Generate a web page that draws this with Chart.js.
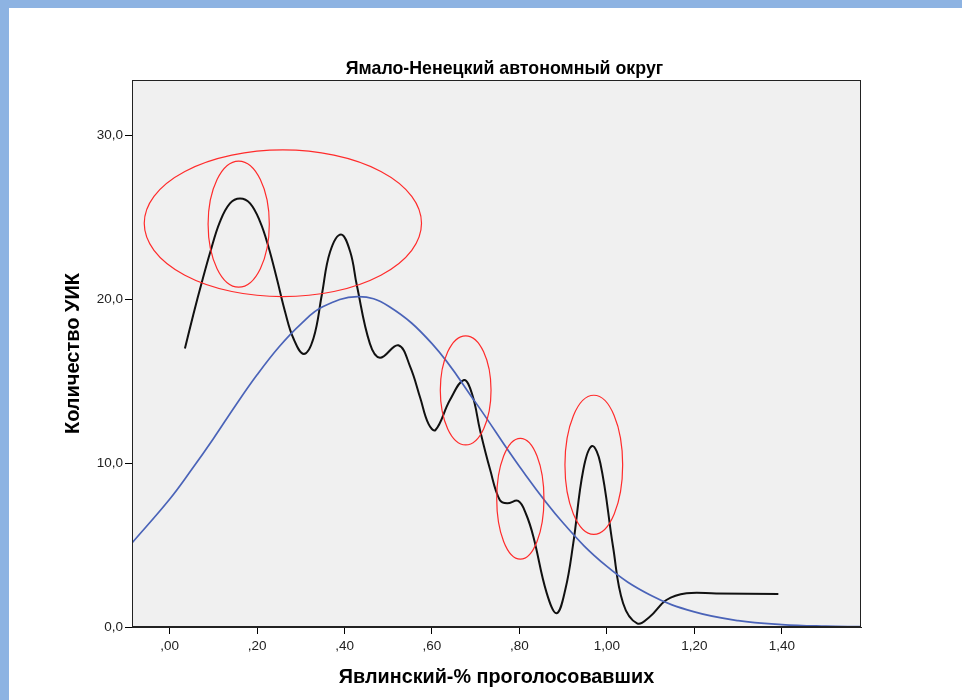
<!DOCTYPE html>
<html>
<head>
<meta charset="utf-8">
<script src="https://cdn.jsdelivr.net/npm/chart.js@4.4.1/dist/chart.umd.min.js"></script>
<style>
  body { margin: 0; background: #fff; }
  #wrap { position: relative; width: 962px; height: 700px; overflow: hidden; }
  #topbar { position: absolute; left: 0; top: 0; width: 962px; height: 8px; background: #8db3e2; }
  #leftbar { position: absolute; left: 0; top: 0; width: 9px; height: 700px; background: #8db3e2; }
  canvas { position: absolute; left: 0; top: 0; }
</style>
</head>
<body>
<div id="wrap">
  <canvas id="myChart" width="962" height="700"></canvas>
  <div id="topbar"></div>
  <div id="leftbar"></div>
</div>
<script>
// black smoothed curve
var blackX = [0.035, 0.054, 0.074, 0.093, 0.115, 0.138, 0.161, 0.184, 0.207, 0.226, 0.245, 0.264, 0.283, 0.307, 0.329, 0.348, 0.367, 0.392, 0.413, 0.428, 0.458, 0.481, 0.523, 0.550, 0.573, 0.592, 0.608, 0.641, 0.673, 0.692, 0.710, 0.733, 0.755, 0.772, 0.797, 0.815, 0.832, 0.862, 0.885, 0.905, 0.923, 0.946, 0.966, 0.985, 1.014, 1.037, 1.069, 1.098, 1.136, 1.182, 1.250, 1.392];
var blackY = [17.0, 19.05, 21.08, 22.9, 24.74, 25.87, 26.17, 25.87, 24.74, 23.22, 21.29, 19.25, 17.63, 16.67, 17.63, 20.27, 22.91, 23.97, 22.91, 20.88, 17.3, 16.44, 17.2, 15.9, 14.0, 12.4, 12.03, 13.86, 15.08, 14.2, 12.0, 9.6, 7.75, 7.55, 7.7, 6.9, 5.5, 2.1, 0.84, 2.3, 5.1, 9.6, 11.05, 10.0, 4.9, 1.45, 0.22, 0.63, 1.65, 2.06, 2.05, 2.01];

// blue normal curve
var blueX = [-0.086, 0.0, 0.05, 0.1, 0.15, 0.2, 0.25, 0.3, 0.35, 0.43, 0.5, 0.6, 0.7, 0.8, 0.9, 1.0, 1.1, 1.2, 1.3, 1.4, 1.5, 1.581];
var blueY = [5.13, 7.8, 9.6, 11.5, 13.5, 15.4, 17.1, 18.5, 19.55, 20.17, 19.6, 17.3, 13.7, 9.8, 6.35, 3.7, 1.94, 0.92, 0.39, 0.15, 0.05, 0.02];

// red ellipses: centre and half-sizes in data units
var ellCx = [0.259, 0.158, 0.677, 0.802, 0.970];
var ellCy = [24.65, 24.6, 14.45, 7.83, 9.9];
var ellRx = [0.317, 0.070, 0.058, 0.054, 0.066];
var ellRy = [4.48, 3.85, 3.33, 3.69, 4.25];

var xTickValues = [0, 0.2, 0.4, 0.6, 0.8, 1.0, 1.2, 1.4];
var xTickLabels = [',00', ',20', ',40', ',60', ',80', '1,00', '1,20', '1,40'];
var yTickValues = [0, 10, 20, 30];
var yTickLabels = ['0,0', '10,0', '20,0', '30,0'];

var titleText = 'Ямало-Ненецкий автономный округ';
var xTitle = 'Явлинский-% проголосовавших';
var yTitle = 'Количество УИК';

var fontFam = 'Arial, "Liberation Sans", sans-serif';

function toPoints(xs, ys) {
  var out = [];
  for (var i = 0; i < xs.length; i++) out.push({ x: xs[i], y: ys[i] });
  return out;
}

function lookup(vals, labels, v) {
  for (var i = 0; i < vals.length; i++) {
    if (Math.abs(vals[i] - v) < 1e-6) return labels[i];
  }
  return '';
}

var plotBox = {
  id: 'plotBox',
  beforeDatasetsDraw: function (chart) {
    var a = chart.chartArea, ctx = chart.ctx;
    ctx.save();
    ctx.fillStyle = '#f0f0f0';
    ctx.fillRect(a.left, a.top, a.right - a.left, a.bottom - a.top);
    ctx.restore();
  },
  afterDatasetsDraw: function (chart) {
    var a = chart.chartArea, ctx = chart.ctx;
    var xs = chart.scales.x, ys = chart.scales.y;
    ctx.save();
    ctx.strokeStyle = '#ff2b2b';
    ctx.lineWidth = 1.2;
    for (var i = 0; i < ellCx.length; i++) {
      var cx = xs.getPixelForValue(ellCx[i]);
      var cy = ys.getPixelForValue(ellCy[i]);
      var rx = Math.abs(xs.getPixelForValue(ellCx[i] + ellRx[i]) - cx);
      var ry = Math.abs(ys.getPixelForValue(ellCy[i] + ellRy[i]) - cy);
      ctx.beginPath();
      ctx.ellipse(cx, cy, rx, ry, 0, 0, Math.PI * 2);
      ctx.stroke();
    }
    ctx.strokeStyle = '#222';
    ctx.lineWidth = 1;
    ctx.strokeRect(a.left + 0.5, a.top + 0.5, a.right - a.left - 1, a.bottom - a.top - 1);
    // chart title, centred a little right of the plot middle like the original
    ctx.fillStyle = '#000';
    ctx.font = 'bold 17.8px ' + fontFam;
    ctx.textAlign = 'center';
    ctx.textBaseline = 'middle';
    ctx.fillText(titleText, (a.left + a.right) / 2 + 8, a.top - 11);
    ctx.restore();
  }
};

var ctx = document.getElementById('myChart');
var myChart = new Chart(ctx, {
  type: 'line',
  data: {
    datasets: [{
      data: toPoints(blueX, blueY),
      borderColor: '#4a63b8',
      borderWidth: 1.7,
      pointRadius: 0,
      tension: 0.4,
      fill: false
    }, {
      data: toPoints(blackX, blackY),
      borderColor: '#111',
      borderWidth: 2,
      pointRadius: 0,
      tension: 0.4,
      fill: false
    }]
  },
  options: {
    responsive: false,
    animation: false,
    layout: { padding: { left: 0, right: 101, top: 80, bottom: 0 } },
    plugins: {
      legend: { display: false },
      tooltip: { enabled: false },
      title: { display: false }
    },
    scales: {
      x: {
        type: 'linear',
        min: -0.086,
        max: 1.581,
        afterFit: function (s) { s.height = 73; },
        grid: { drawOnChartArea: false, drawTicks: true, tickLength: 7, color: '#000' },
        border: { display: true, color: '#222', width: 1 },
        ticks: {
          stepSize: 0.2,
          includeBounds: false,
          autoSkip: false,
          maxRotation: 0,
          padding: 4,
          color: '#222',
          font: { family: fontFam, size: 13.5 },
          callback: function (v) { return lookup(xTickValues, xTickLabels, v); }
        },
        title: {
          display: true,
          text: xTitle,
          color: '#000',
          font: { family: fontFam, size: 19.8, weight: 'bold' },
          padding: { top: 0, bottom: 11 }
        }
      },
      y: {
        min: 0,
        max: 33.4,
        afterFit: function (s) { s.width = 132; },
        grid: { drawOnChartArea: false, drawTicks: true, tickLength: 7, color: '#000' },
        border: { display: true, color: '#222', width: 1 },
        ticks: {
          stepSize: 10,
          includeBounds: false,
          padding: 2,
          color: '#222',
          font: { family: fontFam, size: 13.5 },
          callback: function (v) { return lookup(yTickValues, yTickLabels, v); }
        },
        title: {
          display: true,
          text: yTitle,
          color: '#000',
          font: { family: fontFam, size: 20, weight: 'bold' },
          padding: { top: 61, bottom: 0 }
        }
      }
    }
  },
  plugins: [plotBox]
});
</script>
</body>
</html>
